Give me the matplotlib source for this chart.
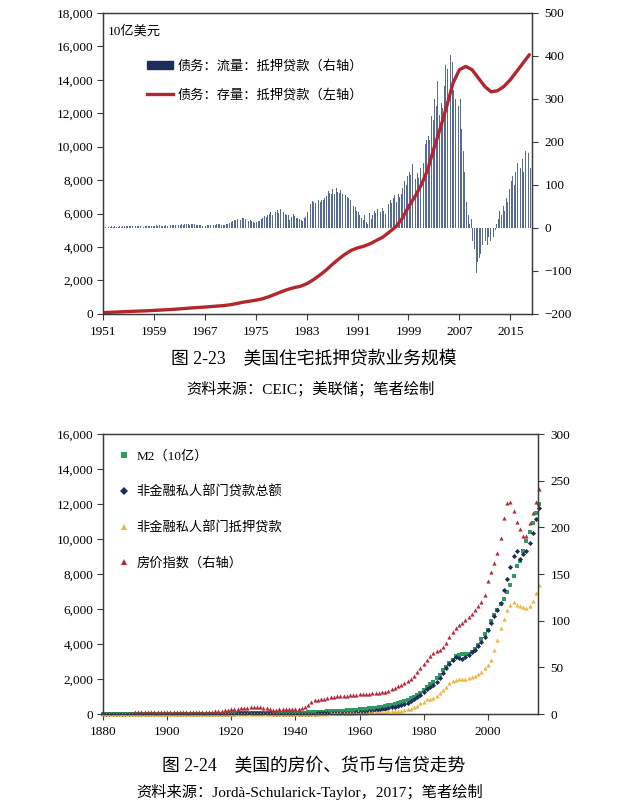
import matplotlib.pyplot as plt
import numpy as np
from matplotlib.patches import Patch
from matplotlib.lines import Line2D
from matplotlib.ticker import FuncFormatter

plt.rcParams['font.family'] = ['Liberation Serif', 'Noto Sans CJK SC']
plt.rcParams['axes.unicode_minus'] = True

# ---- figure 2-23 data: quarterly mortgage flow (right axis), annual stock (left axis)
flow_1950s = [3,3,4,3, 3,4,3,4, 3,3,4,3, 4,4,5,4, 5,5,4,5, 4,5,4,4, 3,3,4,4, 4,4,5,5, 5,6,5,6]
flow_1960s = [5,5,5,6, 5,6,6,6, 6,7,6,7, 7,8,7,8, 8,8,7,8, 8,8,7,7, 7,6,5,5, 5,6,6,7, 7,7,7,8, 8,8,7,7]
flow_1970s = [7,8,10,12, 14,16,18,18, 20,22,19,24, 24,21,20,17, 18,15,13,12, 13,15,17,20,
              22,27,25,31, 33,36,30,40, 38,42,34,44, 40,36,33,30]
flow_1980s = [30,18,26,32, 28,24,22,20, 18,16,22,26, 38,50,56,62, 60,58,64,66, 60,64,66,70,
              74,86,82,78, 90,80,92,84, 82,88,80,86, 76,72,70,66]
flow_1990s = [64,52,48,40, 36,30,24,18, 30,14,10,34, 20,30,40,34, 44,48,38,46, 40,32,50,56,
              64,58,70,76, 60,80,72,78, 92,110,100,120, 130,122,148,130]
flow_2000s = [114,128,116,140, 156,150,196,204, 214,204,260,250, 300,284,342,262, 290,280,330,380,
              370,392,402,386, 320,300,262,284, 300,230,180,130, 60,30,8,20, -30,-50,-104,-80]
flow_2010s = [-70,-60,-40,-60, -30,-40,-20,-30, -10,-20,-5,10, 20,40,30,50, 40,70,60,90,
              110,120,100,130, 150,110,140,160, 130,180,150,175, 140]

stock_years = list(range(1951, 2019))
stock = [80, 95, 110, 125, 145, 160, 175, 190, 210,
         230, 250, 270, 300, 330, 360, 385, 410, 440, 470,
         500, 550, 620, 700, 760, 820, 900, 1020, 1170, 1320,
         1460, 1570, 1650, 1800, 2030, 2300, 2600, 2950, 3270, 3560,
         3800, 3950, 4050, 4200, 4400, 4600, 4900, 5200, 5700, 6400,
         7000, 7700, 8600, 9900, 11100, 12400, 13800, 14600, 14800, 14600,
         14100, 13600, 13280, 13350, 13600, 14000, 14500, 15000, 15500]

# ---- figure 2-24 data: annual 1880-2016
years_b = list(range(1880, 2017))
nan = float('nan')
m2 = ([2, 2, 2, 3, 3, 3, 3, 3, 3, 4,
       4, 4, 4, 4, 4, 4, 4, 5, 5, 6,
       6, 7, 8, 8, 8, 9, 10, 10, 11, 12,
       12, 13, 14, 14, 15, 16, 18, 20, 22, 26,
       33, 31, 32, 35, 37, 40, 41, 42, 44, 45,
       44, 41, 35, 31, 33, 37, 41, 42, 42, 46,
       51, 58, 68, 83, 98, 115, 124, 130, 130, 131,
       150, 160, 170, 180, 190, 200, 210, 220, 235, 250,
       265, 280, 300, 320, 345, 370, 395, 425, 460, 490,
       520, 570, 630, 690, 740, 810, 900, 1000, 1100, 1200,
       1400, 1550, 1700, 1850, 2050, 2250, 2500, 2700, 2900, 3100,
       3300, 3380, 3420, 3430, 3450, 3520, 3700, 3950, 4300, 4600,
       4800, 5300, 5650, 5950, 6300, 6600, 7000, 7400, 7900, 8450,
       8750, 9300, 9900, 10400, 10900, 11500, 12000])
loans = ([4, 4, 4, 5, 5, 5, 5, 6, 6, 6,
          6, 7, 7, 7, 7, 8, 8, 8, 9, 9,
          10, 11, 12, 12, 13, 14, 15, 16, 16, 17,
          18, 19, 20, 21, 22, 23, 24, 25, 27, 29,
          30, 30, 31, 32, 33, 34, 35, 36, 37, 38,
          37, 35, 32, 29, 27, 26, 26, 27, 27, 28,
          28, 29, 28, 27, 27, 28, 30, 32, 35, 38,
          40, 45, 50, 55, 60, 65, 70, 75, 80, 88,
          95, 115, 135, 150, 170, 210, 230, 270, 305, 345,
          380, 420, 460, 515, 570, 650, 745, 840, 955, 1070,
          1280, 1410, 1570, 1660, 1850, 2040, 2330, 2620, 2870, 3100,
          3250, 3210, 3130, 3250, 3380, 3520, 3670, 3860, 4090, 4430,
          4780, 5200, 5580, 5960, 6340, 7110, 7720, 8410, 9020, 9340,
          8830, 9120, 9310, 9780, 10320, 11120, 11790])
mortgage = ([1, 1, 1, 1, 1, 1, 1, 1, 2, 2,
             2, 2, 2, 2, 2, 2, 2, 2, 3, 3,
             3, 3, 3, 4, 4, 4, 4, 5, 5, 5,
             5, 6, 6, 6, 7, 7, 7, 8, 8, 9,
             10, 11, 12, 14, 16, 18, 20, 22, 24, 26,
             26, 25, 24, 22, 21, 20, 20, 20, 20, 20,
             20, 20, 20, 20, 20, 22, 24, 26, 28, 29,
             30, 32, 35, 38, 41, 44, 47, 50, 53, 56,
             60, 70, 80, 90, 100, 110, 115, 125, 135, 145,
             150, 160, 175, 190, 230, 270, 310, 380, 480, 610,
             710, 840, 880, 940, 1030, 1190, 1380, 1570, 1760, 1890,
             1950, 2000, 1980, 2030, 2080, 2100, 2180, 2290, 2430, 2620,
             2810, 3100, 3670, 4240, 4910, 5430, 5960, 6250, 6380, 6250,
             6150, 6100, 6060, 6150, 6440, 6920, 7400])
hpi = ([nan] * 10 +
       [2.2, 2.2, 2.3, 2.2, 2.1, 2.1, 2.2, 2.2, 2.3, 2.3,
        2.3, 2.4, 2.4, 2.5, 2.4, 2.5, 2.6, 2.6, 2.5, 2.6,
        2.6, 2.6, 2.7, 2.7, 2.7, 2.8, 3.0, 3.4, 3.8, 4.4,
        5.2, 5.4, 5.6, 6.0, 6.4, 6.8, 7.0, 7.0, 7.2, 7.0,
        6.6, 6.0, 5.2, 4.6, 4.8, 5.0, 5.0, 5.2, 5.4, 5.4,
        5.6, 5.8, 6.2, 7.0, 9.5, 12.5, 14.5, 15.5, 16.5, 16.5,
        17.5, 18.0, 18.5, 19.0, 19.2, 19.5, 19.8, 20.0, 20.2, 20.5,
        21.0, 21.2, 21.5, 21.8, 22.0, 22.3, 22.6, 23.2, 24.0, 25.0,
        26.5, 28.0, 29.5, 31.5, 33.5, 35.5, 37.5, 40.5, 44.5, 49.5,
        54, 58, 62, 65, 67, 69, 72, 76, 82, 88,
        92, 95, 98, 101, 104, 107, 111, 116, 120, 127,
        142, 152, 162, 173, 189, 210, 226, 227, 218, 206,
        198, 191, 191, 205, 215, 227, 241])

bar_color = '#566a9a'
legend_bar = '#1f2c5e'
red = '#b3262d'
axis_col = '#3a3a3a'
fs = 9.5

fig = plt.figure(figsize=(6.28, 8.07), dpi=100)

def style_axes(ax, ax2):
    for a in (ax, ax2):
        for s in a.spines.values():
            s.set_color(axis_col)
            s.set_linewidth(0.9)
    ax.tick_params(axis='both', labelsize=fs, length=4, width=0.8, color=axis_col, pad=3)
    ax.tick_params(axis='x', pad=4.5)
    ax2.tick_params(axis='y', labelsize=fs, length=4, width=0.8, color=axis_col, pad=5)
    ax.yaxis.set_major_formatter(FuncFormatter(lambda v, p: f'{v:,.0f}'))

# ================= top chart =================
ax = fig.add_axes([0.164, 0.611, 0.683, 0.373])
ax2 = ax.twinx()
flow = flow_1950s + flow_1960s + flow_1970s + flow_1980s + flow_1990s + flow_2000s + flow_2010s
qx = 1951 + np.arange(len(flow)) * 0.25 + 0.125
ax2.bar(qx, flow, width=0.14, color=bar_color, linewidth=0)
ax.plot(stock_years, stock, color=red, lw=2.4, solid_capstyle='round')
ax.set_zorder(ax2.get_zorder() + 1)
ax.patch.set_visible(False)

ax.set_xlim(1951, 2018.4)
ax.set_ylim(0, 18000)
ax.set_yticks(range(0, 18001, 2000))
ax2.set_ylim(-200, 500)
ax2.set_yticks(range(-200, 501, 100))
ax.set_xticks(range(1951, 2016, 8))
style_axes(ax, ax2)

ax.text(0.012, 0.94, '10亿美元', transform=ax.transAxes, fontsize=fs, va='center', ha='left')
handles = [Patch(color=legend_bar), Line2D([], [], color=red, lw=2.4)]
labels = ['债务：流量：抵押贷款（右轴）', '债务：存量：抵押贷款（左轴）']
ax.legend(handles, labels, loc='upper left', bbox_to_anchor=(0.09, 0.862), frameon=False,
          fontsize=fs, handlelength=2.0, handleheight=0.5, handletextpad=0.3, labelspacing=1.2,
          borderaxespad=0)

fig.text(0.5, 1 - 360 / 807, '图 2-23　美国住宅抵押贷款业务规模', ha='center', va='center', fontsize=12.8)
fig.text(0.495, 1 - 389 / 807, '资料来源：CEIC；美联储；笔者绘制', ha='center', va='center', fontsize=11)

# ================= bottom chart =================
bx = fig.add_axes([0.164, 0.1152, 0.693, 0.347])
bx2 = bx.twinx()
ms = 3.0
bx.plot(years_b, m2, 's', color='#2f9a62', ms=ms - 0.4, mew=0, clip_on=False, label='M2（10亿）')
bx.plot(years_b, loans, 'D', color='#1c2d58', ms=ms - 0.4, mew=0, clip_on=False, label='非金融私人部门贷款总额')
bx.plot(years_b, mortgage, '^', color='#f0b43a', ms=ms, mew=0, clip_on=False, label='非金融私人部门抵押贷款')
bx2.plot(years_b, hpi, '^', color='#b8283a', ms=ms, mew=0, clip_on=False, label='房价指数（右轴）')

bx.set_xlim(1880, 2015.7)
bx.set_ylim(0, 16000)
bx.set_yticks(range(0, 16001, 2000))
bx2.set_ylim(0, 300)
bx2.set_yticks(range(0, 301, 50))
bx.set_xticks(range(1880, 2001, 20))
style_axes(bx, bx2)

h1, l1 = bx.get_legend_handles_labels()
h2, l2 = bx2.get_legend_handles_labels()
bx2.legend(h1 + h2, l1 + l2, loc='upper left', bbox_to_anchor=(0.025, 0.96), frameon=False,
           fontsize=fs, handlelength=0.8, handletextpad=0.5, labelspacing=1.7,
           borderaxespad=0, markerscale=1.5)

fig.text(0.5, 1 - 767 / 807, '图 2-24　美国的房价、货币与信贷走势', ha='center', va='center', fontsize=12.8)
fig.text(0.493, 1 - 792 / 807, '资料来源：Jordà-Schularick-Taylor，2017；笔者绘制', ha='center', va='center', fontsize=11)

fig.savefig('out.png', dpi=100)
